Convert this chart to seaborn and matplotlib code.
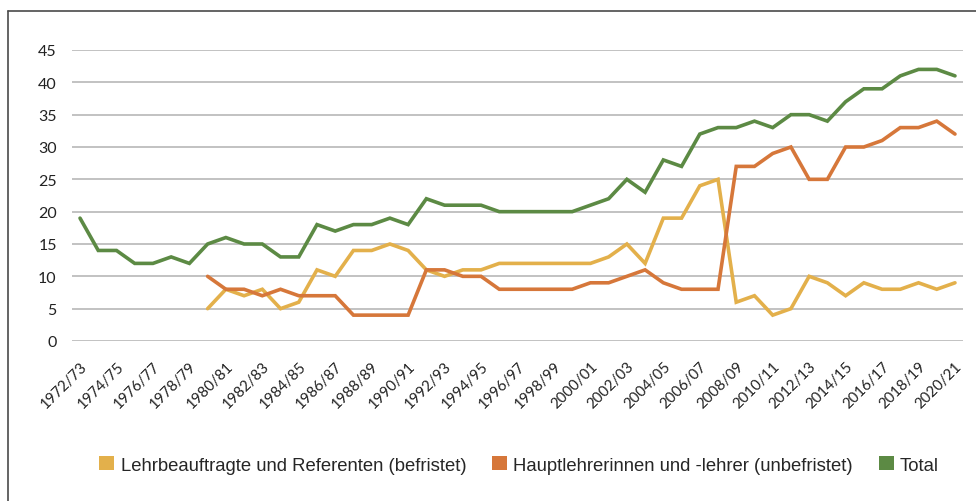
import numpy as np
import pandas as pd
import matplotlib
matplotlib.use("Agg")
import matplotlib.pyplot as plt
import seaborn as sns
from matplotlib.patches import Patch
from matplotlib.lines import Line2D

years = [f"{y}/{str(y + 1)[-2:]}" for y in range(1972, 2021)]

total = [19, 14, 14, 12, 12, 13, 12, 15, 16, 15, 15, 13, 13, 18, 17, 18,
         18, 19, 18, 22, 21, 21, 21, 20, 20, 20, 20, 20, 21, 22, 25, 23,
         28, 27, 32, 33, 33, 34, 33, 35, 35, 34, 37, 39, 39, 41, 42, 42, 41]

lehrbeauftragte = [np.nan] * 7 + [5, 8, 7, 8, 5, 6, 11, 10, 14, 14, 15, 14,
                                  11, 10, 11, 11, 12, 12, 12, 12, 12, 12, 13,
                                  15, 12, 19, 19, 24, 25, 6, 7, 4, 5, 10, 9,
                                  7, 9, 8, 8, 9, 8, 9]

hauptlehrer = [np.nan] * 7 + [10, 8, 8, 7, 8, 7, 7, 7, 4, 4, 4, 4, 11, 11,
                              10, 10, 8, 8, 8, 8, 8, 9, 9, 10, 11, 9, 8, 8,
                              8, 27, 27, 29, 30, 25, 25, 30, 30, 31, 33, 33,
                              34, 32]

series_names = ["Lehrbeauftragte und Referenten (befristet)",
                "Hauptlehrerinnen und -lehrer (unbefristet)",
                "Total"]
colors = ["#E3B04B", "#D6773A", "#5C8A44"]

df = pd.DataFrame({
    "idx": list(range(len(years))) * 3,
    "value": lehrbeauftragte + hauptlehrer + total,
    "series": [series_names[0]] * len(years) + [series_names[1]] * len(years)
              + [series_names[2]] * len(years),
})

sns.set_theme(style="white")
plt.rcParams["font.family"] = ["Lato", "DejaVu Sans"]

fig = plt.figure(figsize=(9.76, 5.02), dpi=100)
ax = fig.add_axes([72 / 976, 1 - 342 / 502, (963 - 72) / 976, (342 - 51) / 502])

sns.lineplot(data=df, x="idx", y="value", hue="series", hue_order=series_names,
             palette=colors, linewidth=2.6, ax=ax, legend=False,
             solid_joinstyle="miter")

ax.set_xlim(-0.44, len(years) - 1 + 0.44)
ax.set_ylim(0, 45)
ax.set_yticks(range(0, 46, 5))
ax.yaxis.grid(True, color="#BDBDBD", linewidth=1.3)
ax.xaxis.grid(False)
for s in ax.spines.values():
    s.set_visible(False)
ax.tick_params(axis="y", length=0, pad=11, labelsize=11.5, labelcolor="#222222")
ticks = list(range(0, len(years), 2))
ax.set_xticks(ticks)
ax.set_xticklabels([years[i] for i in ticks], rotation=45, ha="right",
                   rotation_mode="anchor", fontsize=10.8, color="#222222")
ax.tick_params(axis="x", length=0, pad=13)
ax.set_xlabel("")
ax.set_ylabel("")
ax.set_axisbelow(True)

# frame lines (left and top)
fig.add_artist(Line2D([8 / 976, 8 / 976], [0, 1 - 12 / 502], color="#4A4A4A",
                      linewidth=1.2, transform=fig.transFigure))
fig.add_artist(Line2D([8 / 976, 1], [1 - 12 / 502, 1 - 12 / 502], color="#4A4A4A",
                      linewidth=1.2, transform=fig.transFigure))

handles = [Patch(facecolor=c, edgecolor="none") for c in colors]
fig.legend(handles, series_names, loc="center", bbox_to_anchor=(0.532, 1 - 466 / 502),
           ncol=3, frameon=False, handlelength=0.8, handleheight=0.8,
           handletextpad=0.35, columnspacing=1.4,
           prop={"family": ["Liberation Sans Narrow", "Liberation Sans", "DejaVu Sans"],
                 "size": 13.3})

fig.savefig("out.png", dpi=100, facecolor="white")
